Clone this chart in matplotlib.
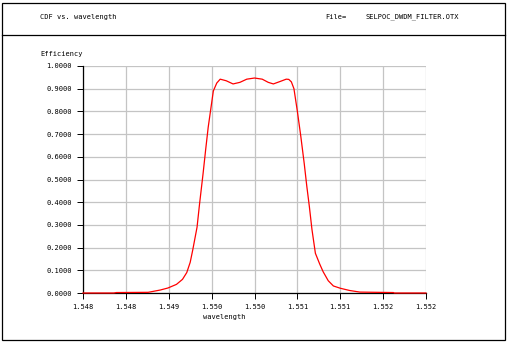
import matplotlib
matplotlib.use("Agg")
import matplotlib.pyplot as plt
from matplotlib.patches import Rectangle
from matplotlib.lines import Line2D

# wavelength vs efficiency
wavelength = [1.54800, 1.54836, 1.54839, 1.54876, 1.54890, 1.54899, 1.54909,
              1.54916, 1.54921, 1.54925, 1.54928, 1.54933, 1.54936, 1.54940,
              1.54943, 1.54946, 1.54949, 1.54952, 1.54956, 1.54960, 1.54967,
              1.54975, 1.54983, 1.54991, 1.55000, 1.55009, 1.55016, 1.55022,
              1.55030, 1.55037, 1.55040, 1.55043, 1.55046, 1.55050, 1.55054,
              1.55058, 1.55061, 1.55064, 1.55067, 1.55071, 1.55076, 1.55080,
              1.55086, 1.55092, 1.55100, 1.55111, 1.55123, 1.55162, 1.55163,
              1.55200]
efficiency = [0.0, 0.0, 0.002, 0.003, 0.013, 0.022, 0.038,
              0.06, 0.09, 0.135, 0.19, 0.29, 0.395, 0.525,
              0.63, 0.73, 0.81, 0.89, 0.925, 0.942, 0.935,
              0.921, 0.928, 0.942, 0.947, 0.942, 0.928, 0.921,
              0.932, 0.942, 0.941, 0.93, 0.90, 0.80, 0.69,
              0.57, 0.47, 0.38, 0.28, 0.175, 0.128, 0.094,
              0.054, 0.031, 0.021, 0.011, 0.004, 0.002, 0.0,
              0.0]

xticks = [1.548, 1.5485, 1.549, 1.5495, 1.550, 1.5505, 1.551, 1.5515, 1.552]
xtick_labels = ['1.548', '1.548', '1.549', '1.550', '1.550', '1.551', '1.551', '1.552', '1.552']
yticks = [0.0, 0.1, 0.2, 0.3, 0.4, 0.5, 0.6, 0.7, 0.8, 0.9, 1.0]
ytick_labels = ['%.4f' % v for v in yticks]

W, H = 508, 343
font = 'DejaVu Sans Mono'
fs = 5

fig = plt.figure(figsize=(W / 100, H / 100), dpi=100)

# outer frame + header separator (pixel coords)
def px(x, y):
    return x / W, 1 - y / H

fig.patches.append(Rectangle(px(2, 340), 503 / W, 337 / H, transform=fig.transFigure,
                             fill=False, edgecolor='black', linewidth=0.9))
fig.lines.append(Line2D([2 / W, 505 / W], [1 - 35 / H, 1 - 35 / H],
                        transform=fig.transFigure, color='black', linewidth=0.9))

fig.text(*px(40, 17), 'CDF vs. wavelength', family=font, fontsize=fs, va='center', ha='left')
fig.text(*px(325, 17), 'File=', family=font, fontsize=fs, va='center', ha='left')
fig.text(*px(365, 17), 'SELPOC_DWDM_FILTER.OTX', family=font, fontsize=fs, va='center', ha='left')
fig.text(*px(40, 54), 'Efficiency', family=font, fontsize=fs, va='center', ha='left')
fig.text(*px(224, 317), 'wavelength', family=font, fontsize=fs, va='center', ha='center')

ax = fig.add_axes([83 / W, (H - 293) / H, 343 / W, 227 / H])
ax.plot(wavelength, efficiency, color='red', linewidth=0.9, zorder=3, clip_on=False)

ax.set_xlim(1.548, 1.552)
ax.set_ylim(0, 1.0)
ax.set_xticks(xticks)
ax.set_xticklabels(xtick_labels, family=font, fontsize=fs)
ax.set_yticks(yticks)
ax.set_yticklabels(ytick_labels, family=font, fontsize=fs)
ax.tick_params(direction='out', length=4, width=0.7, color='black', pad=4)
ax.grid(True, color='#c4c4c4', linewidth=0.9)
ax.set_axisbelow(True)
for s in ['top', 'right']:
    ax.spines[s].set_visible(False)
for s in ['left', 'bottom']:
    ax.spines[s].set_linewidth(0.9)

fig.savefig('out.png', dpi=100)
